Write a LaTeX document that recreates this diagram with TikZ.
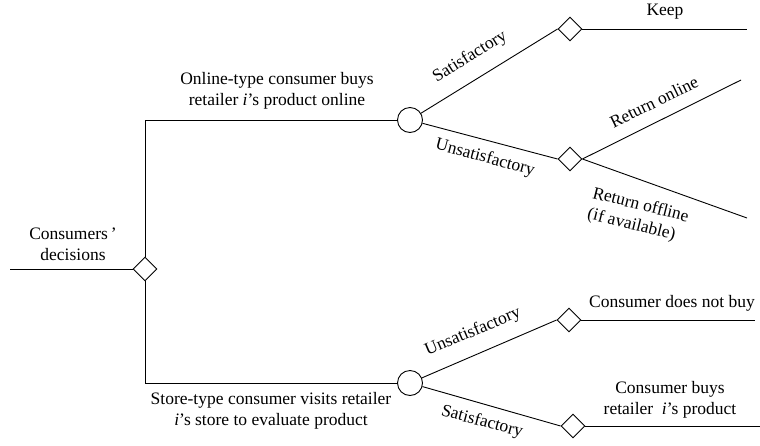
\documentclass[tikz,border=0pt]{standalone}
\usepackage{fontspec}
\setmainfont{Liberation Serif}
\usetikzlibrary{shapes.geometric}
\begin{document}
\begin{tikzpicture}[x=1pt,y=-1pt,
  line/.style={line width=0.9pt},
  dec/.style={diamond,draw,line width=0.9pt,inner sep=0pt,minimum width=24pt,minimum height=24pt,aspect=1},
  chance/.style={circle,draw,line width=0.9pt,inner sep=0pt,minimum size=25pt},
  lbl/.style={font=\fontsize{17.5}{21}\selectfont,inner sep=0pt,align=center}]
\useasboundingbox (0,0) rectangle (760,445);
% nodes
\coordinate (start) at (10,269);
\node[dec] (R) at (145,269) {};
\coordinate (ctop) at (145,120);
\coordinate (cbot) at (145,383);
\node[chance] (C1) at (410,120) {};
\node[chance] (C2) at (410,383) {};
\node[dec] (D1) at (570,29) {};
\node[dec] (D2) at (570,159) {};
\node[dec] (D3) at (569,320) {};
\node[dec] (D4) at (573,426) {};
\coordinate (E1) at (747,29);
\coordinate (E2) at (741,80);
\coordinate (E3) at (747,218);
\coordinate (E4) at (755,320);
\coordinate (E5) at (760,426);
% connectors
\draw[line] (start) -- (R);
\draw[line] (R) -- (ctop) -- (C1);
\draw[line] (R) -- (cbot) -- (C2);
\draw[line] (C1) -- (D1.west);
\draw[line] (C1) -- (D2.west);
\draw[line] (C2) -- (D3.west);
\draw[line] (C2) -- (D4.west);
\draw[line] (D1) -- (E1);
\draw[line] (D2.east) -- (E2);
\draw[line] (D2.east) -- (E3);
\draw[line] (D3) -- (E4);
\draw[line] (D4) -- (E5);
% labels
\node[lbl] (tcons) at (73,244) {Consumers\,’\\decisions};
\node[lbl] (tonline) at (277,91) {Online-type consumer buys\\retailer \textit{i}’s product online};
\node[lbl] (tstore) at (271,411) {Store-type consumer visits retailer\\\textit{i}’s store to evaluate product};
\node[lbl] (tkeep) at (665,12) {Keep};
\node[lbl,rotate=32] (tsat1) at (470,57) {Satisfactory};
\node[lbl,rotate=-15] (tuns1) at (485,158) {Unsatisfactory};
\node[lbl,rotate=26] (tretonl) at (654,102) {Return online};
\node[lbl,rotate=-14,align=left] (tretoff) at (638,216) {Return offline\\(if available)};
\node[lbl,rotate=23] (tuns2) at (473,332) {Unsatisfactory};
\node[lbl,rotate=-15] (tsat2) at (482,422) {Satisfactory};
\node[lbl] (tnobuy) at (672,303) {Consumer does not buy};
\node[lbl] (tbuy) at (670,400) {Consumer buys\\retailer\ \ \textit{i}’s product};
\end{tikzpicture}
\end{document}
